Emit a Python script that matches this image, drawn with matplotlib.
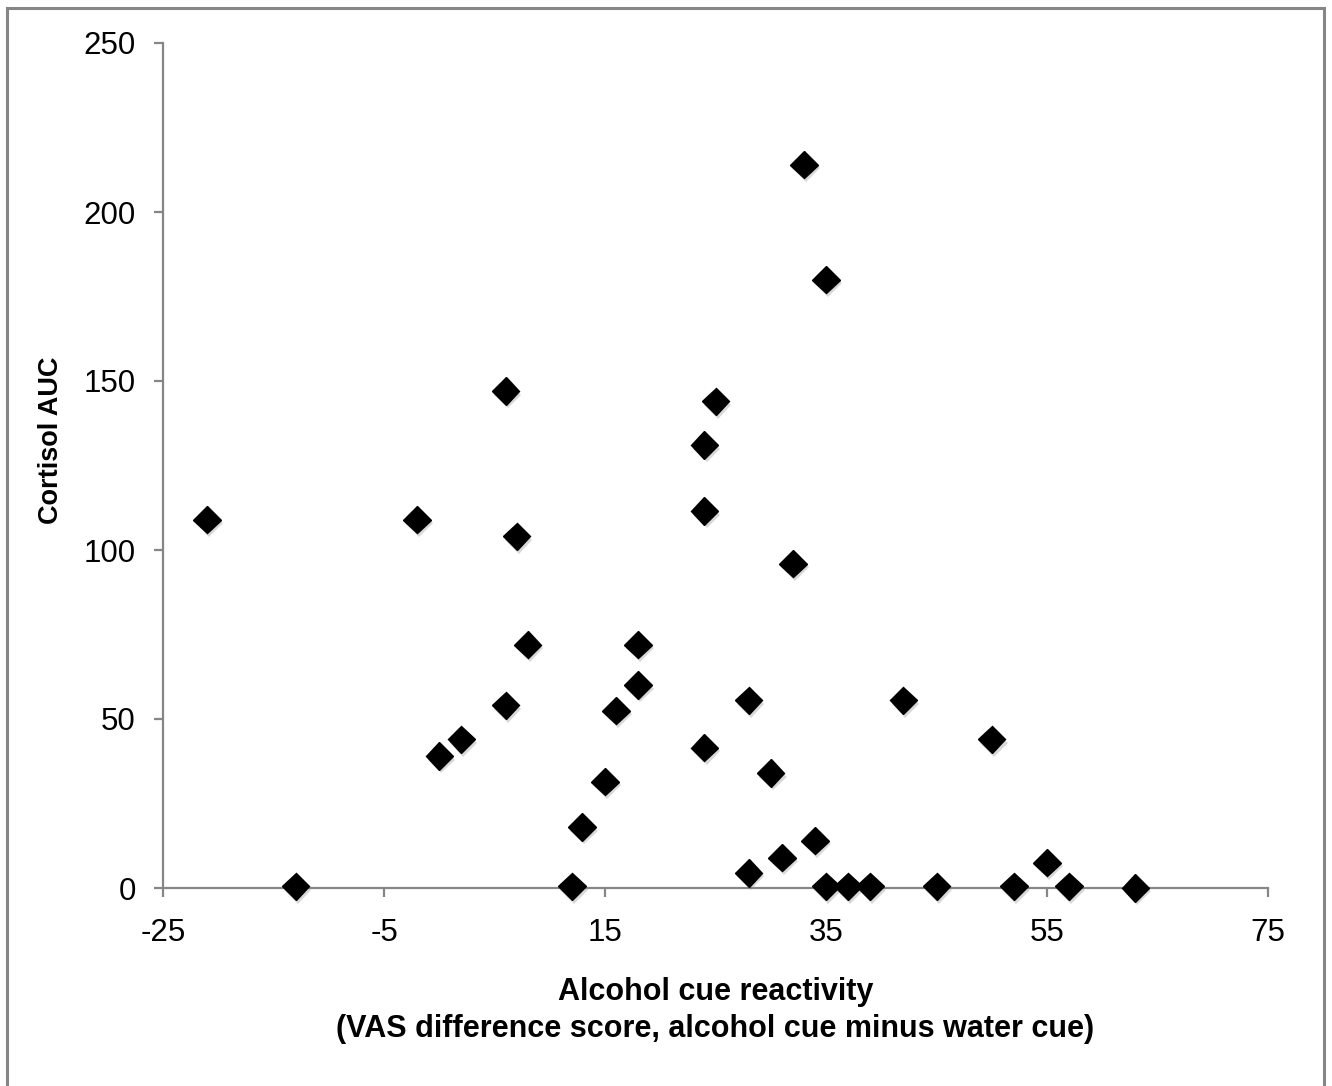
import matplotlib
matplotlib.use('Agg')
import matplotlib.pyplot as plt
import matplotlib.patheffects as pe
from matplotlib.patches import Rectangle

# data
cue_reactivity = [-21, -13, -2, 0, 2, 6, 7, 6, 8, 12, 12.9, 15, 16, 18, 18,
                  24, 25, 24, 24, 28, 28, 30, 31, 32, 33, 35, 34, 35, 37, 39,
                  42, 45, 50, 52, 55, 57, 63]
cortisol_auc = [109, 0.5, 109, 39, 44, 147, 104, 54, 72, 0.5, 18, 31.5, 52.5,
                72, 60, 131, 144, 111.5, 41.5, 55.5, 4.5, 34, 9, 96, 214, 180,
                14, 0.5, 0.5, 0.5, 55.5, 0.5, 44, 0.5, 7.5, 0.5, 0]
x_ticks = [-25, -5, 15, 35, 55, 75]
y_ticks = [0, 50, 100, 150, 200, 250]

plt.rcParams['font.family'] = ['Liberation Sans', 'DejaVu Sans']
plt.rcParams['axes.unicode_minus'] = False
axis_gray = '#868686'

fig = plt.figure(figsize=(13.32, 10.86), dpi=100)
ax = fig.add_axes([163/1332, 1 - 888/1086, 1105/1332, 845/1086])

ax.plot(cue_reactivity, cortisol_auc, linestyle='none', marker='D',
        markersize=14, color='black', clip_on=False, zorder=3,
        path_effects=[pe.SimplePatchShadow(offset=(1.5, -2.5), shadow_rgbFace='gray', alpha=0.3),
                      pe.Normal()])

ax.set_xlim(-25, 75)
ax.set_ylim(0, 250)
ax.set_xticks(x_ticks)
ax.set_yticks(y_ticks)

for side in ['top', 'right']:
    ax.spines[side].set_visible(False)
for side in ['left', 'bottom']:
    ax.spines[side].set_color(axis_gray)
    ax.spines[side].set_linewidth(1.6)

ax.tick_params(axis='both', colors=axis_gray, labelcolor='black',
               length=6.5, width=1.6, labelsize=22.5)
ax.tick_params(axis='x', pad=15)
ax.tick_params(axis='y', pad=13)

ax.set_ylabel('Cortisol AUC', fontsize=19.5, fontweight='bold', va='center')
ax.yaxis.set_label_coords(-0.1014, 0.53)
ax.set_xlabel('Alcohol cue reactivity\n(VAS difference score, alcohol cue minus water cue)',
              fontsize=22, fontweight='bold', linespacing=1.3, va='center')
ax.xaxis.set_label_coords(0.5, -0.1455)

# outer frame
fig.patches.append(Rectangle((7/1332, -0.01), 1317/1332, 1.01 - 8/1086,
                             transform=fig.transFigure, fill=False,
                             edgecolor=axis_gray, linewidth=2.2))

fig.savefig('out.png', dpi=100)
